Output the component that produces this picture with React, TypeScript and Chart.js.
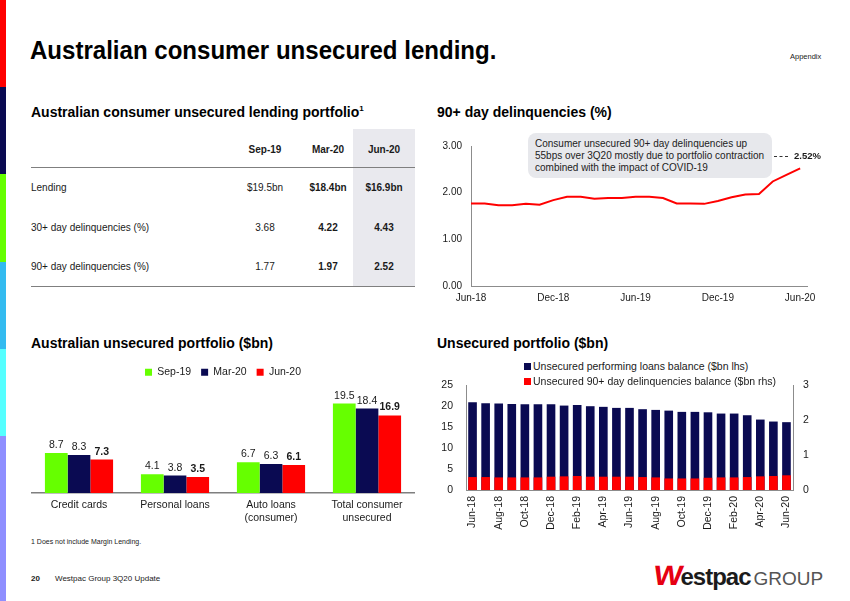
import React, { useEffect, useRef } from "react";
import { Chart, registerables } from "chart.js";
Chart.register(...registerables);

const FONT = "'Liberation Sans', Arial, Helvetica, sans-serif";
const NAVY = "#0A0A52";
const RED = "#FF0000";
const GREEN = "#66FF00";
const TXT = "#1a1a1a";
const AXIS = "#8c8c8c";

// ---------- Table data ----------
const tableColumns = ["Sep-19", "Mar-20", "Jun-20"];
const tableRowLabels = ["Lending", "30+ day delinquencies (%)", "90+ day delinquencies (%)"];
const lendingRow = ["$19.5bn", "$18.4bn", "$16.9bn"];
const delinq30Row = ["3.68", "4.22", "4.43"];
const delinq90Row = ["1.77", "1.97", "2.52"];

// ---------- 90+ day delinquencies line ----------
const delinqMonths = [
  "Jun-18", "Jul-18", "Aug-18", "Sep-18", "Oct-18", "Nov-18", "Dec-18",
  "Jan-19", "Feb-19", "Mar-19", "Apr-19", "May-19", "Jun-19", "Jul-19",
  "Aug-19", "Sep-19", "Oct-19", "Nov-19", "Dec-19", "Jan-20", "Feb-20",
  "Mar-20", "Apr-20", "May-20", "Jun-20",
];
const delinq90Values = [
  1.77, 1.77, 1.73, 1.73, 1.76, 1.74, 1.84, 1.91, 1.91, 1.87, 1.885, 1.885,
  1.91, 1.91, 1.885, 1.77, 1.77, 1.76, 1.82, 1.9, 1.96, 1.97, 2.24, 2.38, 2.52,
];
const delinqTickLabels = ["Jun-18", "Dec-18", "Jun-19", "Dec-19", "Jun-20"];
const delinqYTicks = [0, 1, 2, 3];

// ---------- Australian unsecured portfolio ----------
const portfolioCategories = [
  ["Credit cards"],
  ["Personal loans"],
  ["Auto loans", "(consumer)"],
  ["Total consumer", "unsecured"],
];
const portfolioSeriesNames = ["Sep-19", "Mar-20", "Jun-20"];
const sep19Values = [8.7, 4.1, 6.7, 19.5];
const mar20Values = [8.3, 3.8, 6.3, 18.4];
const jun20Values = [7.3, 3.5, 6.1, 16.9];

// ---------- Unsecured portfolio balances ----------
const balanceMonths = delinqMonths;
const performingBalance = [
  20.9, 20.66, 20.58, 20.5, 20.43, 20.43, 20.43, 20.1, 20.26, 19.95, 19.8, 19.55,
  19.55, 19.24, 19.07, 18.9, 18.6, 18.6, 18.5, 18.2, 18.2, 17.8, 16.77, 16.3, 16.15,
];
const delinq90Balance = [
  0.37, 0.37, 0.36, 0.36, 0.36, 0.36, 0.38, 0.39, 0.4, 0.38, 0.38, 0.38,
  0.38, 0.37, 0.36, 0.33, 0.33, 0.33, 0.35, 0.36, 0.36, 0.37, 0.39, 0.4, 0.42,
];
const balanceTickLabels = [
  "Jun-18", "Aug-18", "Oct-18", "Dec-18", "Feb-19", "Apr-19", "Jun-19",
  "Aug-19", "Oct-19", "Dec-19", "Feb-20", "Apr-20", "Jun-20",
];
const balanceLeftTicks = [0, 5, 10, 15, 20, 25];
const balanceRightTicks = [0, 1, 2, 3];
const balanceLegend = [
  "Unsecured performing loans balance ($bn lhs)",
  "Unsecured 90+ day delinquencies balance ($bn rhs)",
];

Chart.defaults.font.family = FONT;
Chart.defaults.color = TXT;

function DelinquencyLine() {
  const ref = useRef<HTMLCanvasElement>(null);
  useEffect(() => {
    const tickIdx = delinqTickLabels.map((l) => delinqMonths.indexOf(l));
    const chart = new Chart(ref.current!, {
      type: "line",
      data: {
        datasets: [
          {
            data: delinqMonths.map((m, i) => ({ x: i, y: delinq90Values[i] })),
            borderColor: RED,
            borderWidth: 2,
            pointRadius: 0,
            tension: 0,
            fill: false,
          },
        ],
      },
      options: {
        responsive: false,
        animation: false,
        layout: { padding: { top: 16, right: 15, left: 0, bottom: 0 } },
        plugins: { legend: { display: false }, tooltip: { enabled: false } },
        scales: {
          x: {
            type: "linear",
            min: 0,
            max: delinqMonths.length - 0.5,
            afterBuildTicks: (s: any) => {
              s.ticks = tickIdx.map((v) => ({ value: v }));
            },
            afterFit: (s: any) => {
              s.height = 20;
              s.paddingLeft = 0;
              s.paddingRight = 0;
            },
            ticks: {
              autoSkip: false,
              maxRotation: 0,
              padding: 6,
              color: TXT,
              font: { size: 10 },
              callback: (v: any) => delinqMonths[Math.round(v)],
            },
            grid: { display: false, drawTicks: false },
            border: { color: AXIS, width: 1 },
          },
          y: {
            min: 0,
            max: 3,
            afterBuildTicks: (s: any) => {
              s.ticks = delinqYTicks.map((v) => ({ value: v }));
            },
            afterFit: (s: any) => {
              s.width = 35;
              s.paddingTop = 0;
              s.paddingBottom = 0;
            },
            ticks: {
              padding: 9,
              color: TXT,
              font: { size: 10 },
              callback: (v: any) => Number(v).toFixed(2),
            },
            grid: { display: false, drawTicks: false },
            border: { color: AXIS, width: 1 },
          },
        },
      },
    });
    return () => chart.destroy();
  }, []);
  return (
    <canvas
      ref={ref}
      width={386}
      height={176}
      style={{ position: "absolute", left: 436, top: 130, width: 386, height: 176 }}
    />
  );
}

function PortfolioBars() {
  const ref = useRef<HTMLCanvasElement>(null);
  useEffect(() => {
    const valueLabels = {
      id: "valueLabels",
      afterDatasetsDraw(chart: any) {
        const ctx = chart.ctx;
        chart.data.datasets.forEach((ds: any, di: number) => {
          const meta = chart.getDatasetMeta(di);
          meta.data.forEach((bar: any, i: number) => {
            ctx.save();
            ctx.font = `${di === 2 ? "bold " : ""}10.5px ${FONT}`;
            ctx.fillStyle = TXT;
            ctx.textAlign = "center";
            ctx.textBaseline = "alphabetic";
            ctx.fillText(Number(ds.data[i]).toFixed(1), bar.x, bar.y - 5);
            ctx.restore();
          });
        });
      },
    };
    const series = [sep19Values, mar20Values, jun20Values];
    const colors = [GREEN, NAVY, RED];
    const chart = new Chart(ref.current!, {
      type: "bar",
      data: {
        labels: portfolioCategories,
        datasets: series.map((d, i) => ({
          label: portfolioSeriesNames[i],
          data: d,
          backgroundColor: colors[i],
          borderWidth: 0,
          barPercentage: 1,
          categoryPercentage: 0.71,
        })),
      },
      options: {
        responsive: false,
        animation: false,
        layout: { padding: 0 },
        plugins: {
          tooltip: { enabled: false },
          legend: {
            display: true,
            position: "top",
            labels: {
              boxWidth: 7,
              boxHeight: 7,
              padding: 10,
              color: TXT,
              font: { size: 10.5 },
            },
          },
        },
        scales: {
          x: {
            afterFit: (s: any) => {
              s.height = 32;
            },
            ticks: { padding: 6, color: TXT, font: { size: 10.5 }, maxRotation: 0, autoSkip: false },
            grid: { display: false, drawTicks: false },
            border: { color: "#7f7f7f", width: 1.5 },
          },
          y: { display: false, min: 0, max: 23 },
        },
      },
      plugins: [valueLabels],
    });
    return () => chart.destroy();
  }, []);
  return (
    <canvas
      ref={ref}
      width={384}
      height={168}
      style={{ position: "absolute", left: 31, top: 357, width: 384, height: 168 }}
    />
  );
}

function BalanceBars() {
  const ref = useRef<HTMLCanvasElement>(null);
  useEffect(() => {
    const chart = new Chart(ref.current!, {
      type: "bar",
      data: {
        labels: balanceMonths,
        datasets: [
          {
            label: balanceLegend[0],
            data: performingBalance,
            backgroundColor: NAVY,
            yAxisID: "y",
            grouped: false,
            order: 2,
            barPercentage: 0.66,
            categoryPercentage: 1,
          },
          {
            label: balanceLegend[1],
            data: delinq90Balance,
            backgroundColor: RED,
            yAxisID: "y1",
            grouped: false,
            order: 1,
            barPercentage: 0.66,
            categoryPercentage: 1,
          },
        ],
      },
      options: {
        responsive: false,
        animation: false,
        layout: { padding: { top: 10, left: 0, right: 0, bottom: 0 } },
        plugins: { legend: { display: false }, tooltip: { enabled: false } },
        scales: {
          x: {
            offset: true,
            afterFit: (s: any) => {
              s.height = 45;
              s.paddingLeft = 0;
              s.paddingRight = 0;
            },
            ticks: {
              autoSkip: false,
              minRotation: 90,
              maxRotation: 90,
              padding: 6,
              color: TXT,
              font: { size: 10.5 },
              callback: (v: any, i: number) =>
                balanceTickLabels.includes(balanceMonths[i]) ? balanceMonths[i] : "",
            },
            grid: { display: false, drawTicks: false },
            border: { color: AXIS, width: 1 },
          },
          y: {
            position: "left",
            min: 0,
            max: 25,
            afterBuildTicks: (s: any) => {
              s.ticks = balanceLeftTicks.map((v) => ({ value: v }));
            },
            afterFit: (s: any) => {
              s.width = 30;
              s.paddingTop = 0;
              s.paddingBottom = 0;
            },
            ticks: { padding: 13, color: TXT, font: { size: 10.5 } },
            grid: { display: false, drawTicks: false },
            border: { color: AXIS, width: 1 },
          },
          y1: {
            position: "right",
            min: 0,
            max: 3,
            afterBuildTicks: (s: any) => {
              s.ticks = balanceRightTicks.map((v) => ({ value: v }));
            },
            afterFit: (s: any) => {
              s.width = 25;
              s.paddingTop = 0;
              s.paddingBottom = 0;
            },
            ticks: { padding: 10, color: TXT, font: { size: 10.5 } },
            grid: { display: false, drawTicks: false },
            border: { color: AXIS, width: 1 },
          },
        },
      },
    });
    return () => chart.destroy();
  }, []);
  return (
    <canvas
      ref={ref}
      width={382}
      height={160}
      style={{ position: "absolute", left: 436, top: 375, width: 382, height: 160 }}
    />
  );
}

const abs = (s: React.CSSProperties): React.CSSProperties => ({ position: "absolute", ...s });

function Table() {
  const colCenters = [265, 328, 384];
  const rowCenters = [188, 228, 267];
  const rows = [lendingRow, delinq30Row, delinq90Row];
  return (
    <>
      <div style={abs({ left: 353, top: 129, width: 62, height: 158, background: "#E9E9EE" })} />
      <div style={abs({ left: 31, top: 167, width: 384, height: 0, borderTop: "1.5px solid #7f7f7f" })} />
      <div style={abs({ left: 31, top: 286, width: 384, height: 0, borderTop: "1.5px solid #7f7f7f" })} />
      {tableColumns.map((c, i) => (
        <div
          key={c}
          style={abs({
            left: colCenters[i] - 40,
            width: 80,
            top: 150 - 7,
            height: 14,
            lineHeight: "14px",
            textAlign: "center",
            fontWeight: "bold",
            fontSize: 10,
          })}
        >
          {c}
        </div>
      ))}
      {tableRowLabels.map((l, r) => (
        <React.Fragment key={l}>
          <div style={abs({ left: 31, top: rowCenters[r] - 7, height: 14, lineHeight: "14px", fontSize: 10 })}>{l}</div>
          {rows[r].map((v, i) => (
            <div
              key={i}
              style={abs({
                left: colCenters[i] - 40,
                width: 80,
                top: rowCenters[r] - 7,
                height: 14,
                lineHeight: "14px",
                textAlign: "center",
                fontSize: 10,
                fontWeight: i > 0 ? "bold" : "normal",
              })}
            >
              {v}
            </div>
          ))}
        </React.Fragment>
      ))}
    </>
  );
}

export default function App() {
  const barColors = [RED, NAVY, GREEN, "#33BBF0", "#55FFFF", "#8F8FFF"];
  const barTops = [0, 87, 174, 262, 349, 436, 601];
  return (
    <div
      style={{
        position: "absolute",
        left: 0,
        top: 0,
        width: 850,
        height: 601,
        overflow: "hidden",
        background: "#fff",
        fontFamily: FONT,
        color: TXT,
      }}
    >
      {barColors.map((c, i) => (
        <div key={i} style={abs({ left: 0, top: barTops[i], width: 6, height: barTops[i + 1] - barTops[i], background: c })} />
      ))}
      <div
        style={abs({
          left: 30,
          top: 35,
          fontSize: 26,
          fontWeight: "bold",
          color: "#000",
          whiteSpace: "nowrap",
          transform: "scaleX(0.925)",
          transformOrigin: "left center",
        })}
      >
        Australian consumer unsecured lending.
      </div>
      <div style={abs({ left: 790, top: 52, fontSize: 7.5, color: "#222" })}>Appendix</div>

      <div style={abs({ left: 31, top: 104, fontSize: 14, fontWeight: "bold", color: "#000", whiteSpace: "nowrap" })}>
        Australian consumer unsecured lending portfolio<sup style={{ fontSize: 8 }}>1</sup>
      </div>
      <div style={abs({ left: 437, top: 104, fontSize: 14, fontWeight: "bold", color: "#000", whiteSpace: "nowrap" })}>
        90+ day delinquencies (%)
      </div>
      <div style={abs({ left: 31, top: 335, fontSize: 14, fontWeight: "bold", color: "#000", whiteSpace: "nowrap" })}>
        Australian unsecured portfolio ($bn)
      </div>
      <div style={abs({ left: 437, top: 335, fontSize: 14, fontWeight: "bold", color: "#000", whiteSpace: "nowrap" })}>
        Unsecured portfolio ($bn)
      </div>

      <Table />

      <DelinquencyLine />
      <div
        style={abs({
          left: 528,
          top: 133,
          width: 244,
          height: 45,
          background: "#E7E8EC",
          borderRadius: 8,
          boxSizing: "border-box",
          padding: "5px 0 0 7px",
          fontSize: 10,
          lineHeight: "12px",
          color: "#222",
        })}
      >
        Consumer unsecured 90+ day delinquencies up
        <br />
        55bps over 3Q20 mostly due to portfolio contraction
        <br />
        combined with the impact of COVID-19
      </div>
      <div style={abs({ left: 774, top: 156, width: 14, height: 0, borderTop: "1px dashed #333" })} />
      <div style={abs({ left: 794, top: 150, fontSize: 9.5, fontWeight: "bold", lineHeight: "12px" })}>2.52%</div>

      <PortfolioBars />

      <BalanceBars />
      {balanceLegend.map((t, i) => (
        <div key={t} style={abs({ left: 524, top: 359 + i * 15, height: 14, lineHeight: "14px", fontSize: 10.5, whiteSpace: "nowrap" })}>
          <span
            style={{
              display: "inline-block",
              width: 7,
              height: 7,
              background: i === 0 ? NAVY : RED,
              marginRight: 2,
              verticalAlign: "0px",
            }}
          />
          {t}
        </div>
      ))}

      <div style={abs({ left: 31, top: 538, fontSize: 7, color: "#222" })}>1 Does not include Margin Lending.</div>
      <div style={abs({ left: 31, top: 574, fontSize: 8, fontWeight: "bold", color: "#222" })}>20</div>
      <div style={abs({ left: 55, top: 574, fontSize: 8, color: "#222" })}>Westpac Group 3Q20 Update</div>

      <div style={abs({ left: 655, top: 562, whiteSpace: "nowrap", lineHeight: "28px", height: 30 })}>
        <span style={{ display: "inline-block", color: "#E60012", fontSize: 28, fontWeight: "bold", transform: "skewX(-8deg) scaleX(1.1)", letterSpacing: -1 }}>W</span>
        <span style={{ color: "#1b1b1b", fontSize: 24, fontWeight: "bold", letterSpacing: -1 }}>estpac</span>
        <span style={{ color: "#555", fontSize: 19, marginLeft: 3 }}>GROUP</span>
      </div>
    </div>
  );
}
